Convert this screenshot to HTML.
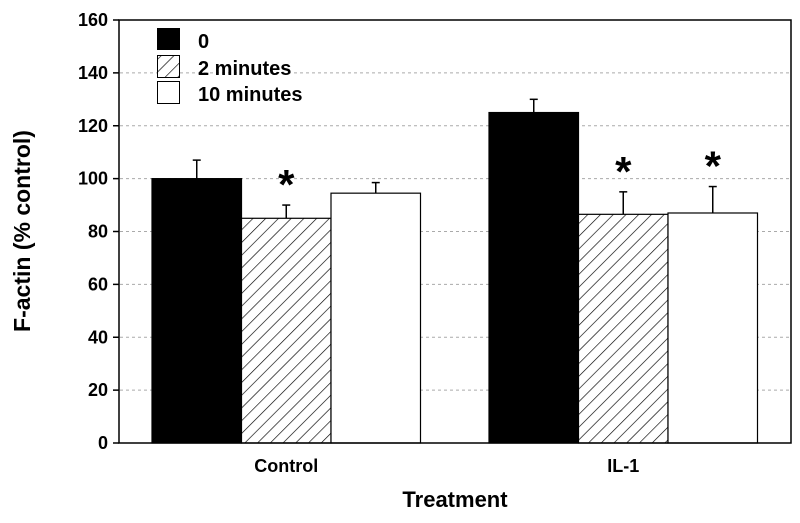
<!DOCTYPE html>
<html><head><meta charset="utf-8"><style>
body{margin:0;background:#fff;}
svg text{font-family:"Liberation Sans",Arial,sans-serif;font-weight:bold;}
</style></head><body>
<svg id="chart" width="800" height="518" viewBox="0 0 800 518">
<defs>
<pattern id="hatch" patternUnits="userSpaceOnUse" width="9" height="9" patternTransform="rotate(45)">
<rect width="9" height="9" fill="#fff"/><line x1="0" y1="0" x2="0" y2="9" stroke="#000" stroke-width="1.3"/>
</pattern>
</defs>
<g id="grid"></g>
<g id="bars"></g>
<rect x="119" y="20" width="672" height="423" fill="none" stroke="#000" stroke-width="1.5"/>
<g id="axes"></g>
<text x="30" y="231" font-size="23" text-anchor="middle" transform="rotate(-90 30 231)">F-actin (% control)</text>
<text x="455" y="507" font-size="22" text-anchor="middle">Treatment</text>
<g>
<rect x="157" y="28" width="23" height="22" fill="#000"/>
<text x="198" y="48" font-size="20">0</text>
<rect x="157.5" y="55.5" width="22" height="22" fill="url(#hatch)" stroke="#000"/>
<text x="198" y="75" font-size="20">2 minutes</text>
<rect x="157.5" y="81.5" width="22" height="22" fill="#fff" stroke="#000"/>
<text x="198" y="101" font-size="20">10 minutes</text>
</g>
</svg>
<script>
const categories=["Control","IL-1"];
const series0=[100,125];
const series2=[85,86.5];
const series10=[94.5,87];
const err0=[7,5];
const err2=[5,8.5];
const err10=[4,10];
const sig2=[true,true];
const sig10=[false,true];
const yTicks=[0,20,40,60,80,100,120,140,160];
const NS="http://www.w3.org/2000/svg";
const y=v=>443-v*423/160;
const groupX=i=>152+i*337;
const bw=89.5;
function mk(tag,attrs,parent){const e=document.createElementNS(NS,tag);for(const k in attrs)e.setAttribute(k,attrs[k]);parent.appendChild(e);return e;}
const grid=document.getElementById('grid'),axes=document.getElementById('axes'),bars=document.getElementById('bars');
yTicks.forEach(t=>{
 if(t>0&&t<160){const g=mk('line',{x1:120,x2:790,y1:y(t),y2:y(t),stroke:'#aaa','stroke-dasharray':'3,3'},grid);
 
 }
 const tk=mk('line',{x1:113,x2:119,y1:y(t),y2:y(t),stroke:'#000','stroke-width':1.5},axes);
 
 
 const tx=mk('text',{x:108,y:y(t)+6,'font-size':18,'text-anchor':'end'},axes);tx.textContent=t;
 
 
});
const sets=[[series0,err0,'#000',null],[series2,err2,'url(#hatch)',sig2],[series10,err10,'#fff',sig10]];
categories.forEach((c,i)=>{
 sets.forEach((s,j)=>{
  const x=groupX(i)+j*bw,v=s[0][i],e=s[1][i],cx=x+bw/2;
  const el=mk('line',{x1:cx,x2:cx,y1:y(v),y2:y(v+e),stroke:'#000','stroke-width':1.5},bars);
  
  
  const cap=mk('line',{x1:cx-4,x2:cx+4,y1:y(v+e),y2:y(v+e),stroke:'#000','stroke-width':1.5},bars);
  
  
  const r=mk('rect',{x:x,y:y(v),width:bw,height:443-y(v),fill:s[2],stroke:'#000','stroke-width':1.2},bars);
  
  
  if(s[3]&&s[3][i]){const a=mk('text',{x:cx,y:y(v+e)-6,'font-size':42,'text-anchor':'middle','font-weight':'normal'},bars);a.textContent='*';
   
   }
 });
 const lx=groupX(i)+bw*1.5;
 const t=mk('text',{x:lx,y:472,'font-size':18,'text-anchor':'middle'},axes);t.textContent=c;
 
 
});
</script>
</body></html>
